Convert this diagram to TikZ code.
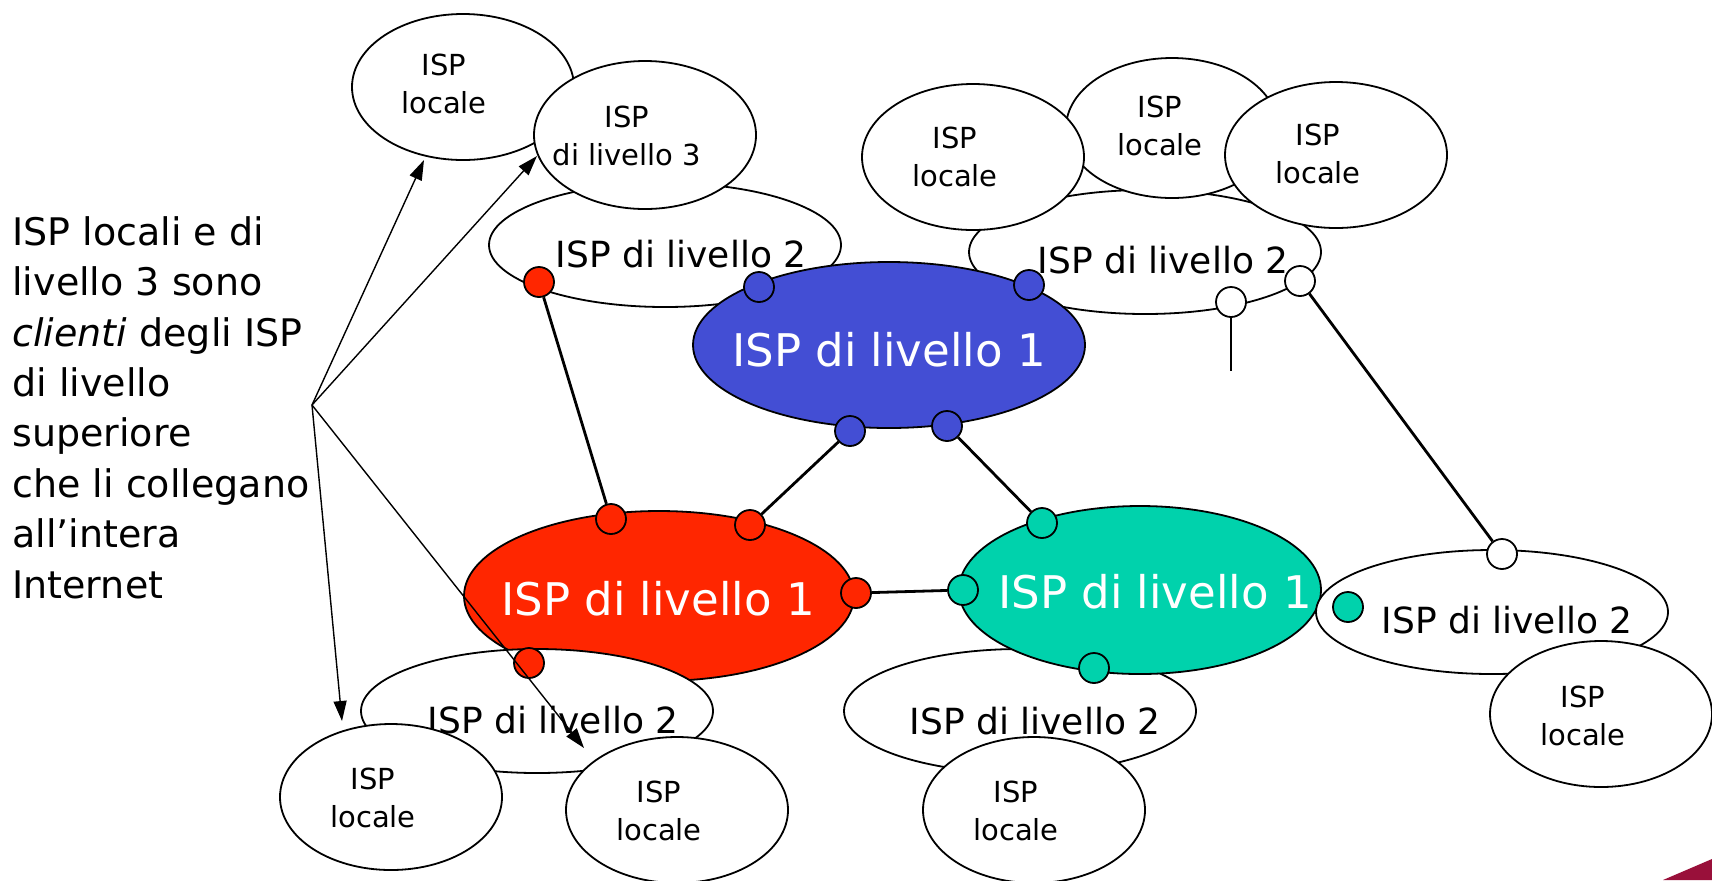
\documentclass[tikz,border=0pt]{standalone}
\usepackage{fontspec}
\setmainfont{DejaVu Sans}
\usetikzlibrary{shapes.geometric,arrows.meta}
\definecolor{bluel1}{HTML}{434ED4}
\definecolor{redl1}{HTML}{FF2600}
\definecolor{greenl1}{HTML}{00D2AC}
\definecolor{slidered}{HTML}{99103A}
\tikzset{
  isp/.style={ellipse, draw=black, line width=0.9pt, fill=white, inner sep=0pt},
  loc/.style={isp, minimum width=111pt, minimum height=73pt},
  lvtwo/.style={isp, minimum width=176pt, minimum height=62pt},
  lvone/.style={ellipse, draw=black, line width=0.9pt, inner sep=0pt},
  txtloc/.style={font=\fontsize{14.5}{19}\selectfont, align=center, inner sep=0pt},
  txttwo/.style={font=\fontsize{18}{22}\selectfont, inner sep=0pt},
  txtone/.style={font=\fontsize{22.5}{27}\selectfont, text=white, inner sep=0pt},
  port/.style={circle, draw=black, line width=0.9pt, minimum size=15pt, inner sep=0pt},
  link/.style={line width=1.4pt},
  arr/.style={line width=0.7pt, -{Triangle[length=10pt,width=6.5pt]}},
}
\begin{document}
\begin{tikzpicture}[x=0.5pt,y=-0.5pt]
\useasboundingbox (0,0) rectangle (1712,880);
% top-left cluster
\node[loc] (locTL) at (463,87) {};
\node[txtloc] (tlocTL) at (444,84) {ISP\\locale};
\node[lvtwo] (ltTL) at (665,245) {};
\node[txttwo] (tltTL) at (681,254) {ISP di livello 2};
\node[loc, minimum width=111pt, minimum height=74pt] (lv3) at (645,135) {};
\node[txtloc] (tlv3) at (627,136) {ISP\\di livello 3};
% top-right cluster
\node[lvtwo] (ltTR) at (1145,252) {};
\node[txttwo] (tltTR) at (1163,260) {ISP di livello 2};
\node[loc, minimum width=106pt, minimum height=70pt] (locTR2) at (1172,128) {};
\node[txtloc] (tlocTR2) at (1160,126) {ISP\\locale};
\node[loc] (locTR1) at (973,157) {};
\node[txtloc] (tlocTR1) at (955,157) {ISP\\locale};
\node[loc] (locTR3) at (1336,155) {};
\node[txtloc] (tlocTR3) at (1318,154) {ISP\\locale};
% tier 1
\node[lvone, fill=bluel1, minimum width=196pt, minimum height=83pt] (blue) at (889,345) {};
\node[txtone] (tblue) at (889,350) {ISP di livello 1};
\node[lvone, fill=redl1, minimum width=195pt, minimum height=85pt] (red) at (659,596) {};
\node[txtone] (tred) at (658,599) {ISP di livello 1};
% bottom-left cluster
\node[lvtwo] (ltBL) at (537,711) {};
\node[txttwo] (tltBL) at (553,720) {ISP di livello 2};
\node[loc] (locBL1) at (391,797) {};
\node[txtloc] (tlocBL1) at (373,798) {ISP\\locale};
\node[loc] (locBL2) at (677,810) {};
\node[txtloc] (tlocBL2) at (659,811) {ISP\\locale};
% bottom-middle cluster
\node[lvtwo] (ltBM) at (1020,711) {};
\node[txttwo] (tltBM) at (1035,721) {ISP di livello 2};
\node[lvone, fill=greenl1, minimum width=181pt, minimum height=84pt] (green) at (1140,590) {};
\node[txtone] (tgreen) at (1155,592) {ISP di livello 1};
\node[loc] (locBM) at (1034,810) {};
\node[txtloc] (tlocBM) at (1016,811) {ISP\\locale};
% right cluster
\node[lvtwo] (ltR) at (1492,612) {};
\node[txttwo] (tltR) at (1507,620) {ISP di livello 2};
\node[loc] (locR) at (1601,714) {};
\node[txtloc] (tlocR) at (1583,716) {ISP\\locale};
% ports
\node[port, fill=redl1] (pR1) at (539,282) {};
\node[port, fill=bluel1] (pB1) at (759,287) {};
\node[port, fill=bluel1] (pB2) at (1029,285) {};
\node[port, fill=white] (pW1) at (1231,302) {};
\node[port, fill=white] (pW2) at (1300,281) {};
\node[port, fill=bluel1] (pB3) at (850,431) {};
\node[port, fill=bluel1] (pB4) at (947,426) {};
\node[port, fill=redl1] (pR2) at (611,519) {};
\node[port, fill=redl1] (pR3) at (750,525) {};
\node[port, fill=redl1] (pR4) at (856,593) {};
\node[port, fill=greenl1] (pG1) at (1042,523) {};
\node[port, fill=greenl1] (pG2) at (963,590) {};
\node[port, fill=greenl1] (pG3) at (1094,668) {};
\node[port, fill=greenl1] (pG4) at (1348,607) {};
\node[port, fill=redl1] (pR5) at (529,663) {};
\node[port, fill=white] (pW3) at (1502,554) {};
% links
\coordinate (stub) at (1231,371);
\draw[link] (pR1) -- (pR2);
\draw[link] (pB3) -- (pR3);
\draw[link] (pB4) -- (pG1);
\draw[link] (pR4) -- (pG2);
\draw[link] (pW2) -- (pW3);
\draw[line width=0.9pt] (pW1) -- (stub);
% left text
\node[anchor=north west, align=left, inner sep=0pt,
      font=\fontsize{19}{25.2}\selectfont] (note) at (12,216)
  {ISP locali e di\\livello 3 sono\\\textit{clienti} degli ISP\\di livello\\superiore\\che li collegano\\all’intera\\Internet};
% arrows
\coordinate (src) at (312,405);
\coordinate (tip1) at (424,160);
\coordinate (tip2) at (537,156);
\coordinate (tip3) at (342,721);
\coordinate (tip4) at (584,748);
\draw[arr] (src) -- (tip1);
\draw[arr] (src) -- (tip2);
\draw[arr] (src) -- (tip3);
\draw[arr] (src) -- (tip4);
% slide corner
\fill[slidered] (1663,880) -- (1712,859) -- (1712,880) -- cycle;
\end{tikzpicture}
\end{document}
